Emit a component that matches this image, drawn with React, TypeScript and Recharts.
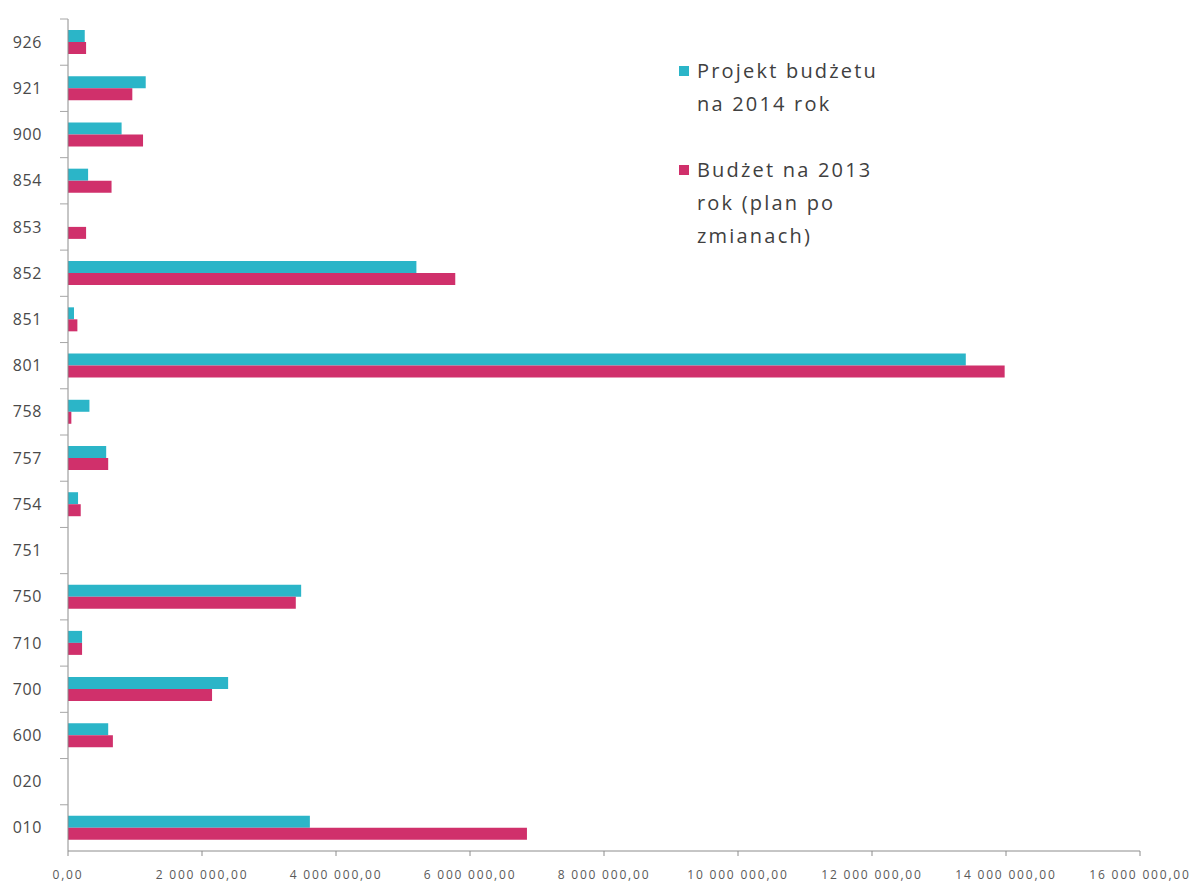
import React from 'react';
import { BarChart, Bar, XAxis, YAxis, Legend } from 'recharts';

const categories = ['926', '921', '900', '854', '853', '852', '851', '801', '758', '757', '754', '751', '750', '710', '700', '600', '020', '010'];
const projekt2014 = [250000, 1160000, 800000, 300000, 0, 5200000, 90000, 13400000, 320000, 570000, 150000, 0, 3480000, 210000, 2390000, 600000, 0, 3610000];
const budzet2013 = [270000, 960000, 1120000, 650000, 270000, 5780000, 140000, 13980000, 50000, 600000, 190000, 0, 3400000, 210000, 2150000, 670000, 0, 6850000];
const xTicks = [0, 2000000, 4000000, 6000000, 8000000, 10000000, 12000000, 14000000, 16000000];

const legendItems = [
    { color: '#2bb5c8', lines: ['Projekt budżetu', 'na 2014 rok'] },
    { color: '#d0306b', lines: ['Budżet na 2013', 'rok (plan po', 'zmianach)'] },
];

const data = categories.map((c, i) => ({ kod: c, projekt: projekt2014[i], budzet: budzet2013[i] }));

const W = 1183;
const H = 878;
const M = { top: 11, right: 51, left: 0, bottom: 0 };
const X_AXIS_H = 35;
const bandH = (H - M.top - M.bottom - X_AXIS_H) / categories.length;

const fmt = (v: number) => {
    const s = Math.round(v).toString().replace(/\B(?=(\d{3})+(?!\d))/g, ' ');
    return s + ',00';
};

function CategoryTick(props: any) {
    const { x, y, payload } = props;
    return (
        <g>
            <line x1={x + 18} x2={x + 26} y1={y - bandH / 2} y2={y - bandH / 2} stroke="#a6a6a6" />
            <text x={x} y={y} dy="0.35em" textAnchor="end" fill="#4a4a4a" fontSize={16} letterSpacing={0.6} fontFamily="'Open Sans', sans-serif">
                {payload.value}
            </text>
        </g>
    );
}

function SideLegend() {
    return (
        <div style={{ fontFamily: "'Open Sans', sans-serif", fontSize: 20, letterSpacing: 2.2, color: '#404040', lineHeight: '33px' }}>
            {legendItems.map((it, i) => (
                <div key={i} style={{ position: 'relative', paddingLeft: 16, marginBottom: i === 0 ? 33 : 0 }}>
                    <span style={{ position: 'absolute', left: -2, top: 12, width: 10, height: 10, background: it.color }} />
                    {it.lines.map((l, j) => (
                        <div key={j}>{l}</div>
                    ))}
                </div>
            ))}
        </div>
    );
}

export default function App() {
    return (
        <div style={{ width: W, height: H, background: '#fff' }}>
            <BarChart width={W} height={H} data={data} layout="vertical" margin={M} barGap={0} barSize={12}>
                <XAxis
                    type="number"
                    domain={[0, 16000000]}
                    ticks={xTicks}
                    tickFormatter={fmt}
                    interval={0}
                    height={X_AXIS_H}
                    stroke="#8c8c8c"
                    tickSize={5}
                    tickMargin={14}
                    tick={{ fill: '#595959', fontSize: 12, letterSpacing: 1.8, fontFamily: "'Open Sans', sans-serif" }}
                />
                <YAxis
                    type="category"
                    dataKey="kod"
                    width={60}
                    stroke="#8c8c8c"
                    tickLine={false}
                    tickSize={0}
                    tickMargin={26}
                    interval={0}
                    tick={<CategoryTick />}
                />
                <Legend
                    layout="vertical"
                    verticalAlign="middle"
                    align="center"
                    wrapperStyle={{ left: 673, top: 46, width: 280 }}
                    content={<SideLegend />}
                />
                <Bar dataKey="projekt" name="Projekt budżetu na 2014 rok" fill="#2bb5c8" isAnimationActive={false} />
                <Bar dataKey="budzet" name="Budżet na 2013 rok (plan po zmianach)" fill="#d0306b" isAnimationActive={false} />
            </BarChart>
        </div>
    );
}
